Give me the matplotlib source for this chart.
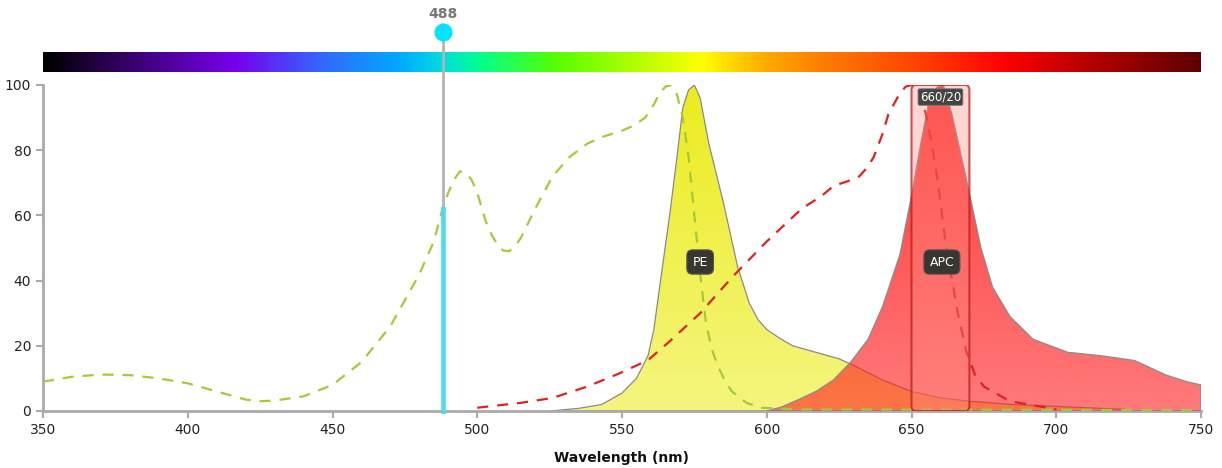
import numpy as np
import matplotlib
matplotlib.use("Agg")
import matplotlib.pyplot as plt
from matplotlib.colors import LinearSegmentedColormap, to_rgba
from matplotlib.patches import FancyBboxPatch

# PE excitation (dashed, yellow-green)
pe_ex_wl = [350, 360, 370, 380, 390, 400, 410, 420, 425, 430, 440, 450, 460, 470,
            480, 485, 488, 490, 492, 494, 496, 498, 500, 503, 505, 507, 509, 511, 513,
            515, 520, 526, 532, 538, 543, 550, 554, 558, 561, 563, 565, 567, 569, 571,
            573, 575, 577, 579, 581, 583, 586, 588, 593, 598, 610, 750]
pe_ex_val = [9, 10.5, 11.2, 11, 10, 8.5, 6, 3.5, 3, 3.2, 4.5, 8, 15, 26,
             42, 52, 62, 67, 71, 73.5, 73, 71, 67, 58, 54, 51, 49.2, 49, 50.5,
             53, 62, 72, 78, 82, 84, 86, 87.5, 90, 94, 97.5, 99.5, 100, 97, 90,
             78, 60, 42, 27, 19, 14, 8.5, 6, 2.5, 1, 0.5, 0.3]

# PE emission (yellow fill)
pe_em_wl = [525, 535, 543, 550, 555, 559, 561, 563, 566.6, 569, 571, 573, 575, 577, 580,
            585, 590, 594, 597, 600, 605, 609, 617, 625, 630, 640, 650, 660, 670, 685, 698,
            710, 724]
pe_em_val = [0, 0.8, 2, 5.5, 10, 17, 25, 38, 61, 78, 93, 98.5, 100, 96, 82,
             64, 44, 33, 28, 25, 22, 20, 18, 16, 14, 9.5, 6, 4, 3, 2, 1.5,
             1, 0.5]

# APC excitation (dashed, red)
apc_ex_wl = [500, 515, 526, 538, 549, 559, 566, 577, 588, 600, 612, 619, 623, 628,
             632, 635, 637, 640, 642, 646, 648, 650, 652, 655, 657, 659, 662, 666, 669,
             672, 675, 684, 700]
apc_ex_val = [1, 2.5, 4, 7.5, 11.5, 15.6, 21, 30, 41, 52, 62, 66, 69, 70.5,
              72, 75, 78, 85, 91, 97.5, 99.5, 100, 99.5, 91, 82, 71, 50, 30, 18,
              11, 7.5, 3, 0.5]

# APC emission (red fill)
apc_em_wl = [600, 605, 611, 617, 623, 629, 635, 640, 646, 650, 653, 656, 659, 661,
             664, 669, 674, 678, 684, 692, 704, 715, 727, 738, 745, 750]
apc_em_val = [0, 1.2, 3.5, 6, 9.5, 15, 22, 32, 48, 66, 81, 95, 99.5, 100,
              91, 71, 50, 38, 29, 22, 18, 17, 15.5, 11, 9, 8]

laser = 488
laser_hit = 62
filter_center = 660
filter_width = 20

spectrum_wl = [350, 380, 416, 445, 473, 488, 500, 527, 578, 600, 618, 654, 683, 708, 750]
spectrum_col = ['#000000', '#3a0070', '#7700ee', '#3366ff', '#00aaff', '#00dddd',
                '#00ff90', '#55ff00', '#ffff00', '#ffaa00', '#ff8000', '#ff4000',
                '#ff0000', '#c00000', '#600000']

fig = plt.figure(figsize=(12.22, 4.68), dpi=100)
cax = fig.add_axes([43 / 1222, 1 - 72 / 468, 1158 / 1222, 20 / 468], zorder=1)
ax = fig.add_axes([43 / 1222, 1 - 411 / 468, 1158 / 1222, 326 / 468], zorder=2)
ax.set_facecolor('none')

# wavelength colour bar
pos = [(w - 350) / 400 for w in spectrum_wl]
cmap = LinearSegmentedColormap.from_list('spec', list(zip(pos, spectrum_col)))
cax.imshow(np.linspace(0, 1, 600)[None, :], aspect='auto', cmap=cmap, extent=(350, 750, 0, 1))
cax.set_axis_off()


def grad_fill(x, y, bottom, top, z):
    poly = ax.fill_between(x, y, 0, facecolor='none', edgecolor='#8a8a8a', lw=0.9, zorder=z + 0.1)
    c0, c1 = np.array(to_rgba(bottom[0], bottom[1])), np.array(to_rgba(top[0], top[1]))
    t = np.linspace(0, 1, 256)[:, None, None]
    img = c0 + (c1 - c0) * t
    im = ax.imshow(img, extent=(350, 750, 0, 100), origin='lower', aspect='auto', zorder=z)
    im.set_clip_path(poly.get_paths()[0], transform=ax.transData)


grad_fill(pe_em_wl, pe_em_val, ('#f5f580', 1), ('#ecec1e', 1), 2)
grad_fill(apc_em_wl, apc_em_val, ('#ff2020', 0.6), ('#ff2020', 0.9), 3)

ax.plot(pe_ex_wl, pe_ex_val, color='#a8c83a', lw=1.6, ls=(0, (5, 4)), zorder=4)
ax.plot(apc_ex_wl, apc_ex_val, color='#dd2222', lw=1.6, ls=(0, (5, 4)), zorder=4)

# filter band
fb = FancyBboxPatch((filter_center - filter_width / 2, 0), filter_width, 100,
                    boxstyle='round,pad=0,rounding_size=1.5',
                    facecolor=(1, 0.55, 0.5, 0.35), edgecolor=(0.75, 0.1, 0.1, 0.75), lw=1.5, zorder=5)
ax.add_patch(fb)
ax.text(filter_center, 96.3, '660/20', ha='center', va='center', color='white', fontsize=8.5,
        zorder=7, bbox=dict(boxstyle='round,pad=0.15', fc='#444444', ec='#777777', lw=0.6))

# dye labels
for lab, xx in [('PE', 577), ('APC', 660.5)]:
    ax.text(xx, 45.7, lab, ha='center', va='center', color='white', fontsize=9, zorder=7,
            bbox=dict(boxstyle='round,pad=0.45', fc='#383630', ec='#555555', lw=0.8))

# laser line
ax.plot([laser, laser], [0, 116.3], color='#b4b4b4', lw=2, zorder=6, clip_on=False)
ax.plot([laser, laser], [0, laser_hit], color='#40e0ee', lw=3.5, alpha=0.85, zorder=6.2, clip_on=False)
ax.plot([laser], [116.3], 'o', color='#00e5ff', ms=12, zorder=6.5, clip_on=False)
ax.text(laser, 121.8, str(laser), ha='center', va='center', color='#777777', fontsize=10,
        fontweight='bold', zorder=7, clip_on=False)

ax.set_xlim(350, 750)
ax.set_ylim(0, 100)
ax.set_xticks(range(350, 751, 50))
ax.set_yticks(range(0, 101, 20))
for s in ['top', 'right']:
    ax.spines[s].set_visible(False)
for s in ['left', 'bottom']:
    ax.spines[s].set_color('#aaaaaa')
    ax.spines[s].set_linewidth(2)
ax.tick_params(colors='#aaaaaa', labelcolor='#222222', width=1.5, length=5, labelsize=10)
ax.set_xlabel('Wavelength (nm)', fontsize=10, fontweight='bold', labelpad=10, color='#111111')

fig.savefig('out.png', dpi=100)
